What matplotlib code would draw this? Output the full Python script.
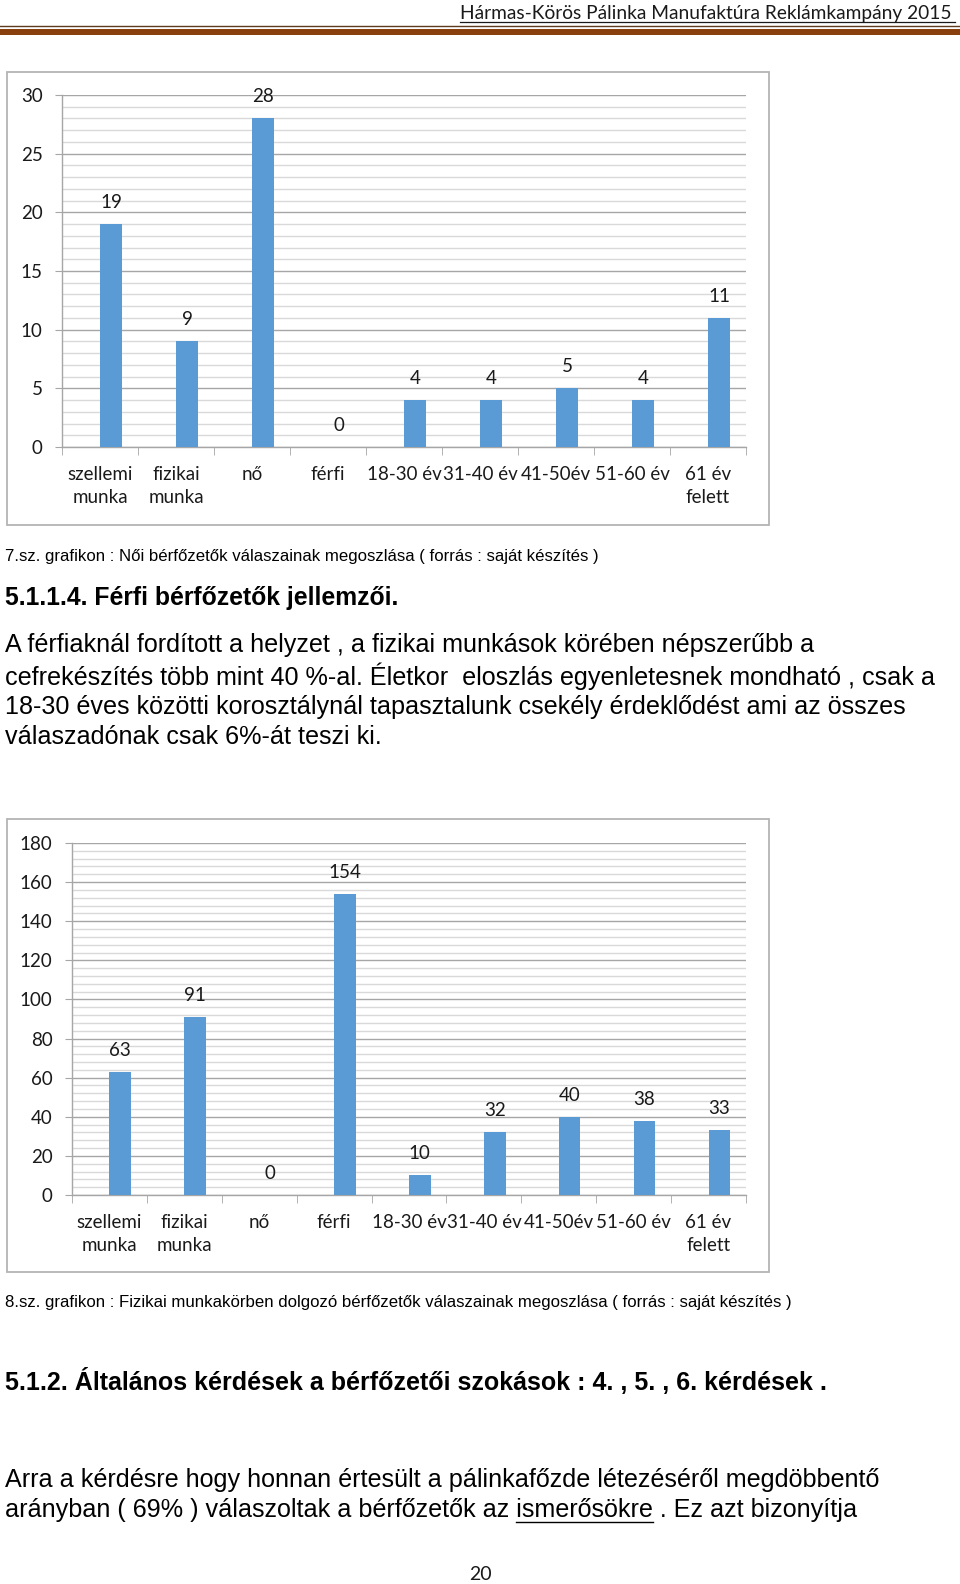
import matplotlib
matplotlib.use("Agg")
import matplotlib.pyplot as plt
from matplotlib.patches import Rectangle
from matplotlib.lines import Line2D
from matplotlib.ticker import MultipleLocator, FixedLocator

# ---------------- data ----------------
categories = ["szellemi\nmunka", "fizikai\nmunka", "nő", "férfi", "18-30 év",
              "31-40 év", "41-50év", "51-60 év", "61 év\nfelett"]
values_chart1 = [19, 9, 28, 0, 4, 4, 5, 4, 11]
values_chart2 = [63, 91, 0, 154, 10, 32, 40, 38, 33]

header_text = "Hármas-Körös Pálinka Manufaktúra Reklámkampány 2015"
caption1 = "7.sz. grafikon : Női bérfőzetők válaszainak megoszlása ( forrás : saját készítés )"
heading1 = "5.1.1.4. Férfi bérfőzetők jellemzői."
para1 = ["A férfiaknál fordított a helyzet , a fizikai munkások körében népszerűbb a",
         "cefrekészítés több mint 40 %-al. Életkor  eloszlás egyenletesnek mondható , csak a",
         "18-30 éves közötti korosztálynál tapasztalunk csekély érdeklődést ami az összes",
         "válaszadónak csak 6%-át teszi ki."]
caption2 = "8.sz. grafikon : Fizikai munkakörben dolgozó bérfőzetők válaszainak megoszlása ( forrás : saját készítés )"
heading2 = "5.1.2. Általános kérdések a bérfőzetői szokások : 4. , 5. , 6. kérdések ."
para2_line1 = "Arra a kérdésre hogy honnan értesült a pálinkafőzde létezéséről megdöbbentő"
para2_pre = "arányban ( 69% ) válaszoltak a bérfőzetők az"
para2_word = "ismerősökre"
para2_post = " . Ez azt bizonyítja"
page_number = "20"

W, H = 960, 1584
DPI = 100
BAR_COLOR = "#5B9BD5"
CHART_FONT = "Lato"
BODY_FONT = "Liberation Sans"

fig = plt.figure(figsize=(W / DPI, H / DPI), dpi=DPI)
fig.patch.set_facecolor("white")
renderer = fig.canvas.get_renderer()


def fx(x):
    return x / W


def fy(y):
    return 1 - y / H


def fit_text(x0, x1, yc, s, family, weight="normal", fs0=12, color="black"):
    t = fig.text(fx(x0), fy(yc), s, family=family, fontsize=fs0, weight=weight,
                 va="center", ha="left", color=color)
    w = t.get_window_extent(renderer).width
    t.set_fontsize(fs0 * (x1 - x0) / w)
    return t


def text_width(s, family, fs, weight="normal"):
    t = fig.text(0, 0, s, family=family, fontsize=fs, weight=weight)
    w = t.get_window_extent(renderer).width
    t.remove()
    return w


# ---------------- header ----------------
fit_text(460, 955, 13.5, header_text, CHART_FONT, fs0=14, color="#1a1a1a")
fig.add_artist(Line2D([fx(460), fx(955)], [fy(21.5), fy(21.5)], color="#1a1a1a", lw=0.9))
fig.add_artist(Line2D([0, 1], [fy(26), fy(26)], color="#5c3b1e", lw=1.0))
fig.add_artist(Rectangle((0, fy(34.5)), 1, (34.5 - 29) / H, transform=fig.transFigure,
                         facecolor="#8a3f0f", edgecolor="none"))


# ---------------- charts ----------------
def make_chart(frame, plot_box, values, ymax, major, minor, fs=13.5):
    fx0, fy0, fx1, fy1 = frame
    fig.add_artist(Rectangle((fx(fx0), fy(fy1)), (fx1 - fx0) / W, (fy1 - fy0) / H,
                             transform=fig.transFigure, facecolor="white",
                             edgecolor="#b4b4b4", lw=1.3, zorder=0))
    x0, y0, x1, y1 = plot_box  # pixel: left, top, right, bottom
    ax = fig.add_axes([fx(x0), fy(y1), (x1 - x0) / W, (y1 - y0) / H])
    ax.set_facecolor("none")
    n = len(values)
    ax.set_xlim(0, n)
    ax.set_ylim(0, ymax)
    bw = 0.29
    xs = [i + 0.5 for i in range(n)]
    ax.bar(xs, values, width=bw, align="edge", color=BAR_COLOR, zorder=3)
    for x, v in zip(xs, values):
        ax.annotate(str(v), (x + bw / 2, v), xytext=(0, 15.5), textcoords="offset points",
                    ha="center", va="center", fontsize=fs, family=CHART_FONT, color="#1a1a1a")
    # grid
    ax.yaxis.set_major_locator(MultipleLocator(major))
    ax.yaxis.set_minor_locator(MultipleLocator(minor))
    ax.grid(axis="y", which="minor", color="#d9d9d9", lw=1.0, zorder=1)
    ax.grid(axis="y", which="major", color="#a6a6a6", lw=1.0, zorder=1)
    ax.set_axisbelow(True)
    for s in ["top", "right"]:
        ax.spines[s].set_visible(False)
    for s in ["left", "bottom"]:
        ax.spines[s].set_color("#a6a6a6")
        ax.spines[s].set_linewidth(1.0)
    ax.tick_params(axis="y", which="major", length=5, color="#a6a6a6", pad=9,
                   labelsize=fs, labelcolor="#1a1a1a")
    ax.tick_params(axis="y", which="minor", length=0)
    ax.set_xticks(xs)
    ax.set_xticklabels(categories, fontsize=fs, family=CHART_FONT, color="#1a1a1a",
                       linespacing=1.38)
    ax.xaxis.set_minor_locator(FixedLocator(list(range(n + 1))))
    ax.tick_params(axis="x", which="major", length=0, pad=14)
    ax.tick_params(axis="x", which="minor", length=6, color="#a6a6a6")
    for lab in ax.get_yticklabels():
        lab.set_family(CHART_FONT)
    return ax


make_chart((7, 72, 769, 525), (62, 95, 746, 447), values_chart1, 30, 5, 1)
make_chart((7, 819, 769, 1272), (72, 843, 746, 1195), values_chart2, 180, 20, 4)

# ---------------- body text ----------------
fit_text(5, 595, 556, caption1, BODY_FONT, fs0=11)
fit_text(5, 402, 598, heading1, BODY_FONT, weight="bold", fs0=15)
t_ref = fit_text(5, 935, 676, para1[1], BODY_FONT, fs0=17)
pfs = t_ref.get_fontsize()
for yc, line in zip([645, 707, 737], [para1[0], para1[2], para1[3]]):
    fig.text(fx(5), fy(yc), line, family=BODY_FONT, fontsize=pfs, va="center", ha="left")

fit_text(5, 787, 1303, caption2, BODY_FONT, fs0=11)
fit_text(5, 828, 1382, heading2, BODY_FONT, weight="bold", fs0=15)
fig.text(fx(5), fy(1480), para2_line1, family=BODY_FONT, fontsize=pfs, va="center", ha="left")
full_line = para2_pre + " " + para2_word + para2_post
fig.text(fx(5), fy(1510), full_line, family=BODY_FONT, fontsize=pfs, va="center", ha="left")
w_end = text_width(para2_pre + " " + para2_word, BODY_FONT, pfs)
w_word = text_width(para2_word, BODY_FONT, pfs)
ux1 = 5 + w_end
ux0 = ux1 - w_word
fig.add_artist(Line2D([fx(ux0), fx(ux1)], [fy(1522), fy(1522)], color="black", lw=1.0))

fig.text(fx(480), fy(1575), page_number, family=CHART_FONT, fontsize=14, va="center",
         ha="center", color="#1a1a1a")

fig.savefig("out.png", dpi=DPI, facecolor="white")
